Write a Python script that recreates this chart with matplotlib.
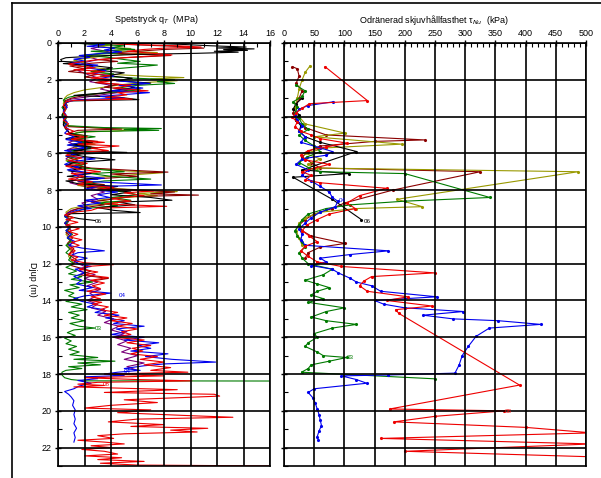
import numpy as np
import matplotlib.pyplot as plt
from matplotlib.ticker import MultipleLocator
from matplotlib.lines import Line2D

plt.rcParams['font.family'] = ['Liberation Sans', 'DejaVu Sans']

# ---- Spetstryck qT (MPa): (djup m, värde) per sondering ----
svart_qt = [(0.00,0.8),(0.03,7.5),(0.08,9.5),(0.15,11.5),(0.22,14.2),(0.27,12.0),(0.32,14.8),(0.36,12.5),(0.40,14.3),(0.45,11.8),(0.50,13.6),(0.56,10.5),(0.62,6.0),(0.70,3.0),(0.80,0.6),(0.90,0.2),(1.00,0.3),(1.05,1.6),(1.12,0.4),(1.22,2.5),(1.35,4.1),(1.48,3.0),(1.62,5.0),(1.78,3.8),(1.92,5.6),(2.05,4.4),(2.18,7.0),(2.30,5.0),(2.42,5.8),(2.58,4.2),(2.72,3.4),(2.85,1.2),(2.95,4.6),(3.08,6.1),(3.15,1.0),(3.25,0.6),(3.45,0.4),(3.7,0.5),(3.95,0.3),(4.2,0.5),(4.45,0.4),(4.7,0.6),(4.9,0.9),(5.05,1.6),(5.2,0.6),(5.4,2.6),(5.55,1.1),(5.7,3.0),(5.85,1.2),(5.95,5.2),(6.05,1.0),(6.2,2.2),(6.35,4.3),(6.5,1.2),(6.65,0.6),(6.8,1.8),(6.95,0.8),(7.1,2.5),(7.25,0.7),(7.4,3.0),(7.5,0.6),(7.65,1.5),(7.8,4.5),(7.95,3.2),(8.1,5.5),(8.25,4.0),(8.4,7.0),(8.55,8.6),(8.65,4.5),(8.8,5.8),(8.95,3.0),(9.1,4.2),(9.22,6.2),(9.28,1.0),(9.4,0.6),(9.55,1.6),(9.65,2.8)]
bla_qt = [(0.00,2.0),(0.08,3.5),(0.18,2.2),(0.28,4.3),(0.38,3.5),(0.48,4.8),(0.58,3.0),(0.68,1.6),(0.78,2.4),(0.88,1.2),(0.98,2.0),(1.1,1.0),(1.2,3.0),(1.35,2.2),(1.5,3.6),(1.65,2.6),(1.8,4.2),(1.95,3.0),(2.1,5.2),(2.2,6.9),(2.3,4.6),(2.45,6.4),(2.6,4.0),(2.7,6.9),(2.8,5.0),(2.9,3.2),(3.0,5.0),(3.08,1.5),(3.18,0.8),(3.3,0.5),(3.5,0.7),(3.7,0.4),(3.9,0.6),(4.1,0.4),(4.3,0.7),(4.5,0.5),(4.7,0.8),(4.9,0.5),(5.1,1.2),(5.25,0.6),(5.4,1.8),(5.55,0.7),(5.7,2.2),(5.85,0.5),(6.0,1.5),(6.15,0.6),(6.3,2.8),(6.45,1.0),(6.6,0.5),(6.75,1.6),(6.9,0.7),(7.05,2.4),(7.2,1.2),(7.35,3.5),(7.5,1.5),(7.62,5.0),(7.72,7.8),(7.8,3.0),(7.95,2.0),(8.1,4.5),(8.25,3.0),(8.4,3.9),(8.55,2.0),(8.7,3.2),(8.85,1.5),(9.0,2.5),(9.1,1.4),(9.25,0.8),(9.4,0.5),(9.6,0.8),(9.8,0.5),(10.0,0.9),(10.2,0.6),(10.4,1.0),(10.6,0.7),(10.8,1.3),(11.0,0.8),(11.15,1.8),(11.3,3.5),(11.4,1.5),(11.55,1.0),(11.7,2.2),(11.85,1.2),(12.0,1.6),(12.15,2.5),(12.3,1.3),(12.5,2.0),(12.7,1.2),(12.9,1.8),(13.1,1.4),(13.3,2.6),(13.45,1.6),(13.6,4.0),(13.75,2.0),(13.9,1.2),(14.05,1.8),(14.2,2.8),(14.35,2.2),(14.5,3.5),(14.65,2.8),(14.8,4.6),(14.95,3.6),(15.1,5.0),(15.25,4.2),(15.4,6.5),(15.55,4.4),(15.7,5.2),(15.85,4.0),(16.0,6.5),(16.15,5.0),(16.3,7.6),(16.45,6.0),(16.6,7.0),(16.75,5.5),(16.9,8.3),(17.05,6.6),(17.2,8.6),(17.35,11.9),(17.45,8.0),(17.55,6.5),(17.7,5.0),(17.8,6.2),(17.9,4.5),(18.0,3.5),(18.08,5.0),(18.15,2.0),(18.25,3.0),(18.35,1.5),(18.5,2.5),(18.65,1.6),(18.8,1.2),(18.95,0.5),(19.1,0.8),(19.25,1.0),(19.45,1.2),(19.7,1.1),(19.95,1.3),(20.2,1.2),(20.45,1.3),(20.7,1.2),(20.95,1.4),(21.2,1.2),(21.45,1.3),(21.7,1.2)]
rod_qt = [(0.00,3.5),(0.08,5.5),(0.15,9.0),(0.22,10.8),(0.28,8.0),(0.35,6.5),(0.45,5.2),(0.55,7.0),(0.65,8.6),(0.75,6.0),(0.85,4.0),(0.95,2.5),(1.05,1.5),(1.15,0.8),(1.25,1.5),(1.35,2.8),(1.45,1.2),(1.55,3.5),(1.65,2.2),(1.78,4.0),(1.9,2.5),(2.0,4.6),(2.15,3.0),(2.3,5.5),(2.45,4.2),(2.6,6.8),(2.7,4.5),(2.82,5.2),(2.95,3.6),(3.05,5.6),(3.12,1.2),(3.2,0.6),(3.4,0.4),(3.6,0.6),(3.8,0.4),(4.0,0.7),(4.2,0.4),(4.4,0.8),(4.6,0.5),(4.8,1.2),(4.95,0.6),(5.1,2.2),(5.25,1.0),(5.4,3.5),(5.5,1.5),(5.6,4.6),(5.72,2.5),(5.85,3.8),(5.95,1.2),(6.1,0.6),(6.25,1.8),(6.4,0.8),(6.55,2.2),(6.7,0.6),(6.85,1.5),(7.0,3.2),(7.1,1.0),(7.25,2.0),(7.4,0.8),(7.55,2.6),(7.7,1.5),(7.85,4.2),(7.95,3.0),(8.05,7.2),(8.15,5.0),(8.3,6.5),(8.45,4.0),(8.6,5.5),(8.75,3.5),(8.88,8.2),(8.98,3.0),(9.1,2.5),(9.2,1.2),(9.35,0.5),(9.5,1.2),(9.6,0.6),(9.75,1.5),(9.9,0.6),(10.1,1.6),(10.25,0.8),(10.4,1.5),(10.55,0.9),(10.7,1.8),(10.85,1.0),(11.0,1.6),(11.15,0.9),(11.3,1.3),(11.5,0.8),(11.65,1.5),(11.8,1.0),(11.95,2.0),(12.05,4.2),(12.15,2.2),(12.3,1.6),(12.45,3.0),(12.6,2.0),(12.75,3.8),(12.9,2.5),(13.05,3.5),(13.2,2.6),(13.35,3.2),(13.5,2.2),(13.65,3.6),(13.8,2.5),(13.9,3.2),(14.0,2.4),(14.1,3.3),(14.2,2.6),(14.35,3.8),(14.5,3.2),(14.65,4.5),(14.8,3.5),(14.95,5.2),(15.1,4.0),(15.25,5.6),(15.4,4.5),(15.55,6.0),(15.7,4.8),(15.85,5.5),(16.0,4.2),(16.15,6.5),(16.3,5.2),(16.45,7.0),(16.6,5.6),(16.75,6.4),(16.9,5.5),(17.05,7.5),(17.2,6.2),(17.35,8.0),(17.5,6.5),(17.65,8.5),(17.8,7.0),(17.9,9.8),(18.0,3.5),(18.1,8.0),(18.2,2.0),(18.3,6.0),(18.37,10.1),(18.45,3.0),(18.55,1.5),(18.62,3.5),(18.7,1.2),(18.85,9.0),(19.0,3.5),(19.1,11.8),(19.2,12.2),(19.3,8.5),(19.4,5.0),(19.55,7.5),(19.7,4.0),(19.85,2.0),(19.95,7.0),(20.1,4.5),(20.25,9.5),(20.35,13.2),(20.45,6.0),(20.6,3.8),(20.75,8.0),(20.85,5.5),(20.95,11.3),(21.05,8.5),(21.15,10.5),(21.25,5.0),(21.35,3.0),(21.5,4.2),(21.6,1.5),(21.7,3.5),(21.8,5.0),(21.9,2.5),(22.0,4.0),(22.1,1.8),(22.2,3.5),(22.35,4.5),(22.45,2.0),(22.55,4.8),(22.65,3.0),(22.75,6.5),(22.85,3.2),(22.95,6.0),(23.0,17.0)]
gron_qt = [(0.00,1.0),(0.08,3.0),(0.15,5.0),(0.25,4.0),(0.35,5.8),(0.45,2.5),(0.55,4.5),(0.65,2.0),(0.78,3.8),(0.9,5.0),(1.0,6.2),(1.1,4.5),(1.2,7.5),(1.3,6.0),(1.42,4.0),(1.55,2.5),(1.68,4.2),(1.8,3.2),(1.92,6.0),(2.0,8.8),(2.1,7.5),(2.2,8.8),(2.3,6.0),(2.45,4.5),(2.55,6.2),(2.65,4.5),(2.75,3.0),(2.85,1.5),(2.95,0.8),(3.1,0.4),(3.3,0.6),(3.5,0.3),(3.7,0.5),(3.9,0.3),(4.1,0.6),(4.3,0.4),(4.5,0.8),(4.6,3.5),(4.65,7.8),(4.7,5.0),(4.75,7.6),(4.82,2.0),(4.95,1.0),(5.1,2.8),(5.25,1.2),(5.4,2.0),(5.55,0.8),(5.7,2.6),(5.85,1.0),(6.0,1.8),(6.15,0.6),(6.3,1.5),(6.45,0.7),(6.6,2.0),(6.75,1.2),(6.9,3.5),(7.0,5.0),(7.1,2.5),(7.25,4.0),(7.4,7.0),(7.5,3.5),(7.65,2.0),(7.8,4.0),(7.95,3.0),(8.1,5.0),(8.25,6.0),(8.4,4.0),(8.55,5.5),(8.7,3.0),(8.85,4.5),(9.0,2.0),(9.15,1.5),(9.3,0.8),(9.45,0.5),(9.6,0.9),(9.8,0.6),(10.0,1.0),(10.2,0.6),(10.4,1.1),(10.6,0.7),(10.8,1.0),(11.0,0.6),(11.2,0.9),(11.4,0.6),(11.6,1.0),(11.8,0.8),(12.0,1.2),(12.2,0.6),(12.4,1.4),(12.55,0.8),(12.7,1.8),(12.85,1.0),(13.0,2.6),(13.15,0.9),(13.3,1.6),(13.45,0.5),(13.6,1.2),(13.75,0.8),(13.9,1.5),(14.05,0.6),(14.2,1.8),(14.35,1.0),(14.5,2.2),(14.65,0.8),(14.8,1.6),(14.95,1.0),(15.1,2.0),(15.25,0.9),(15.4,1.6),(15.5,2.8),(15.6,1.2),(15.75,0.7),(15.9,1.3),(16.05,0.5),(16.2,1.0),(16.35,0.6),(16.5,1.4),(16.65,0.8),(16.8,1.6),(16.95,0.9),(17.1,3.0),(17.2,1.2),(17.3,4.3),(17.4,1.5),(17.5,3.2),(17.6,0.8),(17.7,1.8),(17.8,0.6),(17.9,0.3),(18.05,0.3),(18.2,0.5),(18.3,1.0),(18.37,2.0),(18.38,17.0)]
brun_qt = [(0.0,2.5),(0.1,6.0),(0.2,9.5),(0.28,11.0),(0.35,8.0),(0.45,6.0),(0.55,4.0),(0.68,8.5),(0.8,5.0),(0.9,3.0),(1.0,4.5),(1.1,2.5),(1.25,0.9),(1.4,2.0),(1.55,0.8),(1.7,3.0),(1.85,2.0),(2.0,4.0),(2.15,2.8),(2.25,4.6),(2.4,3.5),(2.55,5.5),(2.7,3.8),(2.85,2.0),(3.0,1.0),(3.15,0.5),(3.4,0.7),(3.7,0.4),(4.0,0.6),(4.3,0.4),(4.55,0.8),(4.68,4.8),(4.75,1.5),(4.9,0.8),(5.05,2.2),(5.2,1.0),(5.35,3.0),(5.5,1.2),(5.65,2.5),(5.8,0.8),(6.0,1.8),(6.2,0.7),(6.4,1.5),(6.6,0.8),(6.8,2.5),(6.92,5.5),(7.02,8.3),(7.12,4.0),(7.25,6.0),(7.4,2.5),(7.55,1.5),(7.7,3.5),(7.85,2.2),(8.0,6.0),(8.1,8.8),(8.2,7.0),(8.27,10.6),(8.35,5.5),(8.5,4.0),(8.65,2.5),(8.8,3.5),(9.0,1.5),(9.2,0.8),(9.4,0.5),(9.6,0.9),(9.8,0.5),(10.0,1.0),(10.3,0.6),(10.6,1.1),(10.9,0.7),(11.2,1.2),(11.5,0.8),(11.8,1.4),(12.1,1.0),(12.4,2.5),(12.6,1.6),(12.8,3.8),(13.0,2.0)]
oliv_qt = [(0.0,2.0),(0.1,4.0),(0.2,3.0),(0.3,5.5),(0.42,4.0),(0.52,7.5),(0.62,5.0),(0.75,3.0),(0.85,2.0),(0.95,1.2),(1.1,2.0),(1.25,1.5),(1.4,3.5),(1.55,2.5),(1.7,4.0),(1.8,6.5),(1.88,9.5),(1.96,7.0),(2.05,9.0),(2.15,6.5),(2.25,5.0),(2.4,3.5),(2.55,2.0),(2.7,1.2),(2.85,0.7),(3.0,0.5),(3.3,0.4),(3.6,0.6),(3.9,0.4),(4.2,0.6),(4.5,0.5),(4.62,3.0),(4.7,6.0),(4.78,4.5),(4.85,1.5),(5.0,1.0),(5.15,2.0),(5.3,1.0),(5.5,2.8),(5.65,1.2),(5.8,1.8),(6.0,0.7),(6.2,1.2),(6.4,0.6),(6.6,1.5),(6.8,2.0),(6.95,5.0),(7.05,8.0),(7.15,6.0),(7.3,3.0),(7.45,1.5),(7.6,2.5),(7.75,1.5),(7.9,4.0),(8.0,6.5),(8.08,9.0),(8.18,6.0),(8.3,7.5),(8.42,4.5),(8.55,3.0),(8.7,4.5),(8.85,2.0),(9.0,1.0),(9.2,0.6),(9.5,0.8),(9.8,0.5),(10.1,0.9),(10.4,0.6),(10.7,1.0),(11.0,0.7),(11.3,1.0),(11.6,0.8),(12.0,1.2)]
lila_qt = [(0.0,1.5),(0.15,3.5),(0.3,2.5),(0.5,4.0),(0.7,2.0),(0.9,3.0),(1.1,1.8),(1.3,2.5),(1.5,1.5),(1.7,2.2),(1.9,3.0),(2.1,2.4),(2.3,4.0),(2.5,3.2),(2.7,4.5),(2.9,2.5),(3.05,1.0),(3.2,0.5),(3.5,0.6),(3.8,0.4),(4.1,0.6),(4.4,0.4),(4.7,0.7),(5.0,0.9),(5.2,1.8),(5.4,0.8),(5.6,1.5),(5.8,0.7),(6.0,1.2),(6.3,0.6),(6.6,1.4),(6.8,2.2),(7.0,1.0),(7.3,1.6),(7.6,0.9),(7.9,2.5),(8.1,3.5),(8.3,2.5),(8.5,3.0),(8.7,1.8),(8.9,2.2),(9.1,1.0),(9.3,0.6),(9.6,0.9),(9.9,0.6),(10.2,1.0),(10.5,0.7),(10.8,1.1),(11.1,0.8),(11.4,1.2),(11.7,0.9),(12.0,1.5),(12.2,2.2),(12.4,1.6),(12.6,2.8),(12.8,2.0),(13.0,3.0),(13.2,2.2),(13.4,3.2),(13.6,2.4),(13.8,2.8),(14.0,2.2),(14.2,3.0),(14.4,2.5),(14.6,3.6),(14.8,3.0),(15.0,4.2),(15.2,3.5),(15.4,4.6),(15.6,4.0),(15.8,5.0),(16.0,4.2),(16.2,5.2),(16.4,4.5),(16.6,5.5),(16.8,4.8),(17.0,6.0),(17.2,5.0),(17.4,6.5),(17.6,5.2),(17.8,6.0)]

# ---- Odränerad skjuvhållfasthet (kPa): (djup m, värde) ----
rod_tau = [(1.29,68),(3.13,138),(3.3,42),(3.55,30),(3.8,20),(4.05,14),(4.3,22),(4.55,18),(4.8,28),(5.0,45),(5.2,60),(5.45,105),(5.65,70),(5.85,40),(6.1,28),(6.35,35),(6.6,75),(6.8,50),(7.0,30),(7.2,45),(7.45,35),(7.6,60),(7.9,170),(8.3,125),(8.7,104),(9.0,118),(9.3,75),(9.6,55),(9.9,38),(10.2,30),(10.5,42),(10.8,55),(11.05,35),(11.3,28),(11.6,40),(11.9,55),(12.15,95),(12.5,250),(12.7,145),(12.95,132),(13.2,125),(13.5,138),(13.8,205),(14.0,170),(14.3,245),(14.5,185),(14.7,190),(18.6,390),(19.9,175),(20.0,365),(20.3,250),(20.6,182),(20.9,400),(21.2,510),(21.5,160),(21.8,510),(22.2,200),(22.5,510)]
bla_tau = [(3.2,81),(3.4,40),(3.6,25),(3.9,18),(4.2,22),(4.5,30),(4.8,25),(5.1,35),(5.4,28),(5.7,60),(5.9,80),(6.1,70),(6.3,30),(6.6,20),(6.9,40),(7.2,30),(7.5,45),(7.8,60),(8.1,75),(8.4,80),(8.6,89),(8.9,85),(9.2,60),(9.5,45),(9.8,35),(10.1,25),(10.4,30),(10.7,28),(11.0,35),(11.3,173),(11.5,110),(11.7,60),(11.9,70),(12.1,45),(12.3,80),(12.5,90),(12.8,110),(13.0,120),(13.2,145),(13.5,160),(13.8,253),(14.0,150),(14.2,165),(14.4,200),(14.6,297),(14.8,230),(15.0,280),(15.1,355),(15.3,425),(15.5,340),(15.95,318),(16.5,305),(17.0,295),(17.5,290),(17.95,283),(18.05,173),(18.1,95),(18.3,120),(18.5,137),(18.8,50),(19.0,40),(19.3,48),(19.6,52),(19.9,55),(20.2,58),(20.5,60),(20.8,62),(21.1,58),(21.4,55),(21.6,57)]
gron_tau = [(2.3,20),(2.6,35),(2.9,30),(3.2,15),(3.5,22),(3.8,18),(4.1,25),(4.4,30),(4.7,40),(5.0,25),(5.3,35),(5.6,50),(5.9,60),(6.2,38),(6.5,25),(6.8,42),(7.0,60),(7.1,200),(8.4,341),(8.6,200),(8.8,110),(9.0,70),(9.3,40),(9.6,30),(9.9,25),(10.2,18),(10.5,22),(10.8,30),(11.1,35),(11.4,25),(11.7,30),(12.0,40),(12.3,80),(12.6,65),(12.9,35),(13.1,55),(13.3,75),(13.5,55),(13.7,45),(13.9,65),(14.1,40),(14.4,100),(14.6,70),(14.9,45),(15.1,70),(15.3,120),(15.5,80),(15.8,50),(16.0,55),(16.3,40),(16.5,35),(16.8,55),(17.0,65),(17.1,104),(17.3,75),(17.5,45),(17.7,40),(17.9,29),(18.26,250)]
oliv_tau = [(1.25,43),(1.6,35),(2.0,30),(2.5,25),(3.0,22),(3.5,18),(4.0,25),(4.4,35),(4.9,101),(5.1,50),(5.5,195),(5.7,70),(6.0,35),(6.3,60),(6.6,40),(6.8,55),(7.0,487),(8.5,187),(8.9,229),(9.0,120),(9.2,60),(9.5,35),(9.8,25),(10.2,20),(10.6,25),(11.0,30)]
brun_tau = [(1.29,14),(1.4,22),(1.8,25),(2.2,20),(2.6,30),(3.0,25),(3.4,20),(3.8,15),(4.2,20),(4.6,35),(5.0,70),(5.27,233),(5.35,150),(5.6,60),(5.9,40),(6.2,30),(6.5,45),(6.8,60),(7.0,325),(8.0,180),(8.7,100),(9.0,80),(9.3,50),(9.6,35),(9.9,25),(10.2,30),(10.5,45),(10.9,101),(11.1,60),(11.4,40),(11.7,35)]
svart_tau = [(3.0,30),(3.3,20),(3.6,15),(3.9,25),(4.2,20),(4.5,28),(4.8,25),(5.1,35),(5.4,60),(5.9,120),(6.9,30),(7.1,107),(7.3,15),(8.5,80),(9.6,128)]

farger = {'svart': '#000000', 'bla': '#0000ee', 'rod': '#ee0000', 'gron': '#007a00',
          'brun': '#8b0000', 'oliv': '#999900', 'lila': '#7a007a'}

qt_serier = [('lila', lila_qt), ('oliv', oliv_qt), ('brun', brun_qt), ('gron', gron_qt),
             ('svart', svart_qt), ('bla', bla_qt), ('rod', rod_qt)]
tau_serier = [('brun', brun_tau), ('oliv', oliv_tau), ('svart', svart_tau), ('gron', gron_tau),
              ('bla', bla_tau), ('rod', rod_tau)]

fig = plt.figure(figsize=(6.01, 4.78), dpi=100)
W, H = 601, 478

def axes_px(x0, x1, y0, y1):
    return fig.add_axes([x0 / W, 1 - y1 / H, (x1 - x0) / W, (y1 - y0) / H])

ax1 = axes_px(58, 270, 43, 466)
ax2 = axes_px(284, 586, 43, 466)

for namn, d in qt_serier:
    d = np.array(d)
    ax1.plot(d[:, 1], d[:, 0], color=farger[namn], lw=0.8, clip_on=True)

for namn, d in tau_serier:
    d = np.array(d)
    ax2.plot(d[:, 1], d[:, 0], color=farger[namn], lw=0.8, marker='.', ms=2.5)

# sonderingsetiketter
ax1.text(4.6, 13.75, '04', color=farger['bla'], fontsize=4.5, va='center')
ax1.text(2.8, 15.55, '03', color=farger['gron'], fontsize=4.5, va='center')
ax1.text(5.0, 17.85, '04', color=farger['bla'], fontsize=4.5, va='center')
ax1.text(3.4, 18.55, '08', color=farger['rod'], fontsize=4.5, va='center')
ax1.text(2.8, 9.7, '06', color=farger['svart'], fontsize=4.5, va='center')
ax2.text(90, 8.55, '04', color=farger['bla'], fontsize=4.5, va='center')
ax2.text(132, 9.7, '06', color=farger['svart'], fontsize=4.5, va='center')
ax2.text(104, 17.1, '03', color=farger['gron'], fontsize=4.5, va='center')
ax2.text(365, 20.05, '08', color=farger['rod'], fontsize=4.5, va='center')

ax1.set_xlim(0, 16)
ax2.set_xlim(0, 500)
for ax in (ax1, ax2):
    ax.set_ylim(23, 0)
    ax.xaxis.tick_top()
    ax.grid(True, color='black', lw=1.2)
    ax.set_axisbelow(False)
    for s in ax.spines.values():
        s.set_linewidth(1.2)
    ax.tick_params(axis='x', which='major', direction='inout', length=5, width=1, labelsize=6.5, pad=1)
    ax.tick_params(axis='x', which='minor', direction='in', length=3, width=0.8)
    ax.tick_params(axis='y', which='major', direction='inout', length=5, width=1, labelsize=6.5, pad=2)
    ax.tick_params(axis='y', which='minor', direction='in', length=3, width=0.8)
    ax.yaxis.set_major_locator(MultipleLocator(2))
    ax.yaxis.set_minor_locator(MultipleLocator(1))

ax1.xaxis.set_major_locator(MultipleLocator(2))
ax1.xaxis.set_minor_locator(MultipleLocator(1))
ax2.xaxis.set_major_locator(MultipleLocator(50))
ax2.xaxis.set_minor_locator(MultipleLocator(10))
ax2.tick_params(axis='y', labelleft=False)

fig.text(156 / W, 1 - 20 / H, 'Spetstryck q$_T$  (MPa)', ha='center', va='center', fontsize=6.5)
fig.text(434 / W, 1 - 20 / H, 'Odränerad skjuvhållfasthet τ$_{Nu}$  (kPa)', ha='center', va='center', fontsize=6.5)
fig.text(32 / W, 1 - 279 / H, 'Djup (m)', rotation=270, ha='center', va='center', fontsize=6.5)

# ram runt figuren
fig.add_artist(Line2D([12 / W, 12 / W], [0, 1 - 3 / H], color='black', lw=1.2))
fig.add_artist(Line2D([12 / W, 1], [1 - 3 / H, 1 - 3 / H], color='black', lw=1.2))

fig.savefig('out.png', dpi=100)
